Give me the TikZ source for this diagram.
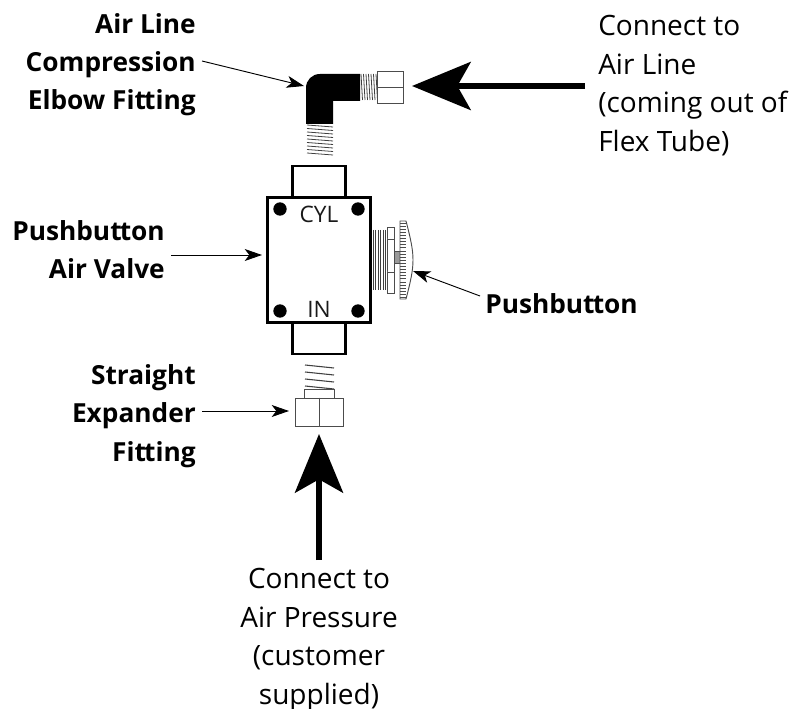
\documentclass[tikz,border=0pt]{standalone}
\usepackage{fontspec}
\setmainfont{Open Sans}
\usetikzlibrary{arrows.meta}
\newcommand{\ttlig}{t\kern-1.4pt t}
\tikzset{
 x=0.75pt,y=-0.75pt,
 boldlabel/.style={font=\fontsize{19.7}{22}\selectfont\bfseries,inner sep=0pt},
 plainlabel/.style={font=\fontsize{21}{23}\selectfont,inner sep=0pt},
 body/.style={draw=black,line width=1.9pt,fill=white},
 thin part/.style={draw=black!70,line width=0.7pt,fill=white},
 thread/.style={draw=black!75,line width=0.6pt},
 pointer/.style={draw=black,line width=0.7pt,-{Stealth[length=13pt,width=9pt,inset=3.5pt]}},
 big arrow/.style={draw=black,line width=4.4pt,-{Stealth[length=44pt,width=36pt,inset=10pt]}},
 bolt/.style={circle,fill=black,minimum size=10pt,inner sep=0pt},
 engraved/.style={font=\fontsize{17}{19}\selectfont,text=black!90,inner sep=0pt},
}
\begin{document}
\begin{tikzpicture}
\useasboundingbox (0,0) rectangle (807,709);
% elbow threads
\foreach \i in {0,...,6}{\draw[thread] ({361+\i*2.5},74) -- ({362.5+\i*2.5},100);}
\foreach \i in {0,...,8}{\draw[thread] (307,{125+\i*3.5}) -- (333,{127+\i*3.5});}
% elbow
\fill[black] (306,124) -- (306,88) .. controls (306,80) and (312,74) .. (320,74) -- (360,74) -- (360,101) -- (333,101) -- (333,124) -- cycle;
% compression nut
\node[thin part,minimum width=20pt,minimum height=24.5pt,inner sep=0pt] (nut) at (390.3,87.5) {};
\draw[thin part] (nut.west) -- (nut.east);
% valve stubs and body
\node[body,minimum width=39.5pt,minimum height=24pt,inner sep=0pt] (stubtop) at (319,182) {};
\node[body,minimum width=39.5pt,minimum height=24pt,inner sep=0pt] (stubbot) at (319,338) {};
\node[body,minimum width=77pt,minimum height=93.5pt,inner sep=0pt] (valve) at (319,260) {};
\node[bolt] (b1) at (280,209) {};
\node[bolt] (b2) at (358,209) {};
\node[bolt] (b3) at (280,311) {};
\node[bolt] (b4) at (358,311) {};
\node[engraved] (cyl) at (319,214.5) {CYL};
\node[engraved] (in) at (319,309.5) {IN};
% pushbutton
\foreach \i in {0,...,5}{\draw[thread,line width=0.8pt] ({373.5+\i*2.4},230) -- ({373.5+\i*2.4},290);}
\draw[thin part] (387,227) rectangle (394,293);
\draw[thin part] (387,239) -- (394,239) (387,272) -- (394,272);
\filldraw[draw=black!70,fill=black!40,line width=0.6pt] (394,251) rectangle (400,263);
\draw[thin part] (400,221) -- (406,221) .. controls (411,240) and (413,250) .. (413,260) .. controls (413,270) and (411,280) .. (406,299) -- (400,299) -- cycle;
\foreach \i in {0,...,24}{\draw[draw=black!70,line width=0.45pt] (400,{223+\i*3.1}) -- (406,{223+\i*3.1});}
% straight expander
\foreach \i in {0,...,3}{\draw[thread,line width=0.8pt] (305,{365+\i*7}) -- (334,{368+\i*7});}
\draw[thin part] (304,389) rectangle (334,398);
\node[thin part,minimum width=36pt,minimum height=21pt,inner sep=0pt] (exp) at (319,412) {};
\draw[thin part] (exp.north) -- (exp.south);
% labels
\node[boldlabel,anchor=base east] (l1a) at (196,33.5) {Air Line};
\node[boldlabel,anchor=base east] (l1b) at (196,72) {Compression};
\node[boldlabel,anchor=base east] (l1c) at (196,110) {Elbow Fi\ttlig ing};
\node[boldlabel,anchor=base east] (l2a) at (165,241) {Pushbu\ttlig on};
\node[boldlabel,anchor=base east] (l2b) at (165,279) {Air Valve};
\node[boldlabel,anchor=base west] (l3) at (485,313.5) {Pushbu\ttlig on};
\node[boldlabel,anchor=base east] (l4a) at (196,384) {Straight};
\node[boldlabel,anchor=base east] (l4b) at (196,422) {Expander};
\node[boldlabel,anchor=base east] (l4c) at (196,461) {Fi\ttlig ing};
\node[plainlabel,anchor=base west] (r1) at (598,36) {Connect to};
\node[plainlabel,anchor=base west] (r2) at (598,74.5) {Air Line};
\node[plainlabel,anchor=base west] (r3) at (598,113) {(coming out of};
\node[plainlabel,anchor=base west] (r4) at (598,151.5) {Flex Tube)};
\node[plainlabel,anchor=base] (c1) at (319,588) {Connect to};
\node[plainlabel,anchor=base] (c2) at (319,627) {Air Pressure};
\node[plainlabel,anchor=base] (c3) at (319,665.5) {(customer};
\node[plainlabel,anchor=base] (c4) at (319,704) {supplied)};
% pointers
\coordinate (p1s) at (202,61); \coordinate (p1e) at (304,86);
\coordinate (p2s) at (171,255); \coordinate (p2e) at (262,255);
\coordinate (p3s) at (480,296); \coordinate (p3e) at (413,271);
\coordinate (p4s) at (202,411); \coordinate (p4e) at (289,411);
\draw[pointer] (p1s) -- (p1e);
\draw[pointer] (p2s) -- (p2e);
\draw[pointer] (p3s) -- (p3e);
\draw[pointer] (p4s) -- (p4e);
\coordinate (a1s) at (585,86); \coordinate (a1e) at (412,86);
\coordinate (a2s) at (319,560); \coordinate (a2e) at (319,434);
\draw[big arrow] (a1s) -- (a1e);
\draw[big arrow] (a2s) -- (a2e);
\end{tikzpicture}
\end{document}
